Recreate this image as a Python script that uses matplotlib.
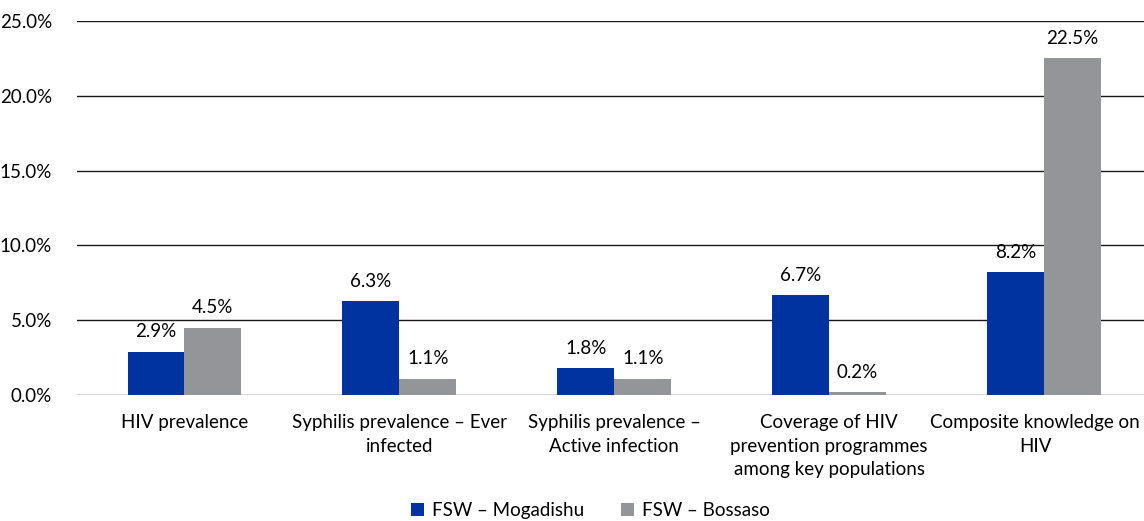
import matplotlib.pyplot as plt
import matplotlib.transforms as mtransforms
import numpy as np

# Datos
categorias = ["HIV prevalence",
              "Syphilis prevalence – Ever\ninfected",
              "Syphilis prevalence –\nActive infection",
              "Coverage of HIV\nprevention programmes\namong key populations",
              "Composite knowledge on\nHIV"]
mogadishu = [2.9, 6.3, 1.8, 6.7, 8.2]
bossaso = [4.5, 1.1, 1.1, 0.2, 22.5]
series = ["FSW – Mogadishu", "FSW – Bossaso"]

plt.rcParams['font.family'] = ['Lato', 'DejaVu Sans']
fs = 13.5

fig = plt.figure(figsize=(11.44, 5.21), dpi=100)
ax = fig.add_axes([77/1144, 126/521, 1074.5/1144, 374/521])

x = np.arange(len(categorias))
ancho = 0.265
b1 = ax.bar(x - ancho/2, mogadishu, ancho, color="#0033A0", label=series[0], zorder=3)
b2 = ax.bar(x + ancho/2, bossaso, ancho, color="#939598", label=series[1], zorder=3)

for barras, valores in [(b1, mogadishu), (b2, bossaso)]:
    for b, v in zip(barras, valores):
        ax.text(b.get_x() + b.get_width()/2, v + 0.75, f"{v:.1f}%",
                ha='center', va='bottom', fontsize=fs)

ax.set_ylim(0, 25)
ax.set_xlim(-0.5, len(categorias) - 0.5)
ax.set_yticks(np.arange(0, 26, 5))
ax.set_yticklabels([f"{t:.1f}%" for t in np.arange(0, 26, 5)], fontsize=fs)
ax.set_xticks(x)
ax.set_xticklabels(categorias, fontsize=fs, linespacing=1.45)
ax.tick_params(length=0)
ax.tick_params(axis='x', pad=14)
ax.tick_params(axis='y', pad=18)
ax.grid(axis='y', color='#1a1a1a', linewidth=1, zorder=0)
for s in ax.spines.values():
    s.set_visible(False)

# la ultima etiqueta se corre un poco a la izquierda para que no se corte
ultima = ax.get_xticklabels()[-1]
ultima.set_transform(ultima.get_transform() +
                     mtransforms.ScaledTranslation(-0.09, 0, fig.dpi_scale_trans))

fig.legend(loc='center', bbox_to_anchor=(0.516, 0.02), ncol=2, frameon=False,
           fontsize=fs, handlelength=0.7, handleheight=0.7, columnspacing=2.0,
           handletextpad=0.4)

fig.savefig("out.png", dpi=100)
